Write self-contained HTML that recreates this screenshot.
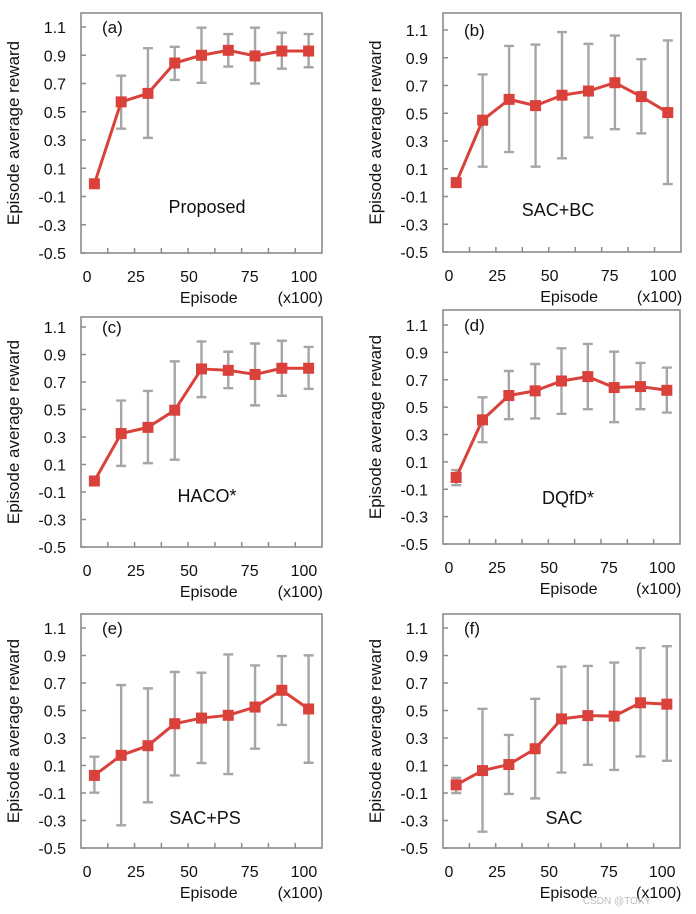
<!DOCTYPE html>
<html><head><meta charset="utf-8">
<style>
html,body{margin:0;padding:0;background:#fff;}
svg{display:block;font-family:"Liberation Sans",Arial,sans-serif;}
</style></head>
<body>
<svg id="fig" width="696" height="914" viewBox="0 0 696 914" xmlns="http://www.w3.org/2000/svg"></svg>
<script>
const xTickLabels = ["0","25","50","75","100"];
const yTickValues = [1.1,0.9,0.7,0.5,0.3,0.1,-0.1,-0.3,-0.5];
const panelIds = ["a","b","c","d","e","f"];
const panelNames = ["Proposed","SAC+BC","HACO*","DQfD*","SAC+PS","SAC"];
const meanA = [-0.01,0.57,0.63,0.845,0.90,0.935,0.895,0.93,0.93];
const highA = [-0.01,0.755,0.95,0.96,1.095,1.05,1.095,1.06,1.05];
const lowA  = [-0.01,0.38,0.315,0.725,0.705,0.82,0.70,0.805,0.815];
const meanB = [0.0,0.45,0.60,0.555,0.63,0.66,0.72,0.62,0.505];
const highB = [0.0,0.78,0.985,0.995,1.085,1.0,1.06,0.89,1.025];
const lowB  = [0.0,0.115,0.22,0.115,0.175,0.325,0.385,0.355,-0.01];
const meanC = [-0.02,0.325,0.37,0.495,0.795,0.785,0.755,0.80,0.80];
const highC = [-0.02,0.565,0.635,0.85,0.995,0.92,0.98,1.0,0.955];
const lowC  = [-0.02,0.09,0.11,0.135,0.59,0.655,0.53,0.60,0.65];
const meanD = [-0.014,0.407,0.585,0.619,0.691,0.723,0.643,0.65,0.623];
const highD = [0.04,0.572,0.764,0.815,0.93,0.962,0.905,0.823,0.789];
const lowD  = [-0.07,0.244,0.412,0.417,0.451,0.485,0.39,0.485,0.46];
const meanE = [0.028,0.174,0.244,0.404,0.445,0.465,0.525,0.647,0.511];
const highE = [0.164,0.685,0.661,0.78,0.775,0.908,0.828,0.896,0.901];
const lowE  = [-0.098,-0.335,-0.168,0.028,0.118,0.038,0.222,0.395,0.12];
const meanF = [-0.041,0.063,0.107,0.222,0.439,0.463,0.459,0.556,0.546];
const highF = [0.01,0.512,0.322,0.585,0.819,0.824,0.849,0.954,0.968];
const lowF  = [-0.1,-0.381,-0.107,-0.139,0.049,0.105,0.068,0.166,0.134];

const series = [[meanA,highA,lowA],[meanB,highB,lowB],[meanC,highC,lowC],[meanD,highD,lowD],[meanE,highE,lowE],[meanF,highF,lowF]];
// layout geometry (not data)
const frames = [
 {l:81,r:322,t:13,b:253,y11:27, nx:207,ny:207},
 {l:443,r:681,t:13,b:252,y11:30, nx:558,ny:210},
 {l:81,r:322,t:317,b:547,y11:327, nx:207,ny:496},
 {l:443,r:680,t:310,b:544,y11:325, nx:568,ny:498},
 {l:81,r:322,t:614,b:848,y11:628, nx:205,ny:818},
 {l:443,r:680,t:614,b:848,y11:628, nx:564,ny:818}
];
const xLabelFrac = [0.025,0.228,0.448,0.70,0.925];
const NS="http://www.w3.org/2000/svg";
const svg=document.getElementById('fig');
function mk(tag,attrs,parent,text){const e=document.createElementNS(NS,tag);for(const k in attrs)e.setAttribute(k,attrs[k]);if(text!==undefined)e.textContent=text;(parent||svg).appendChild(e);return e;}

frames.forEach((f,pi)=>{
  const g=mk('g',{});
  
  
  const y=v=>f.b-(v+0.5)/1.6*(f.b-f.y11);
  const n=series[pi][0].length;
  const cw=(f.r-f.l)/n;
  const x=i=>f.l+cw*(i+0.5);
  const fr=mk('rect',{x:f.l,y:f.t,width:f.r-f.l,height:f.b-f.t,fill:'none',stroke:'#8c8c8c','stroke-width':1.6},g);
  
  
  for(let i=1;i<n;i++){
    const t=mk('line',{x1:f.l+cw*i,x2:f.l+cw*i,y1:f.b,y2:f.b-5,stroke:'#8c8c8c','stroke-width':1.5},g);
    
    
  }
  yTickValues.forEach(v=>{
    const tk=mk('line',{x1:f.l,x2:f.l+5,y1:y(v),y2:y(v),stroke:'#8c8c8c','stroke-width':1.5},g);
    
    
    const t=mk('text',{x:f.l-15,y:y(v)+6,'text-anchor':'end','font-size':16,fill:'#111'},g,v.toFixed(1));
    
    
  });
  xTickLabels.forEach((s,i)=>{
    const t=mk('text',{x:f.l+(f.r-f.l)*xLabelFrac[i],y:f.b+29,'text-anchor':'middle','font-size':16,fill:'#111'},g,s);
    
    
  });
  const xt=mk('text',{x:f.l+(f.r-f.l)*0.53,y:f.b+50,'text-anchor':'middle','font-size':16,fill:'#111'},g,'Episode');
  
  
  const xu=mk('text',{x:f.l+(f.r-f.l)*0.91,y:f.b+50,'text-anchor':'middle','font-size':16,fill:'#111'},g,'(x100)');
  
  
  const cy=(f.t+f.b)/2, cx=f.l-62;
  const yt=mk('text',{x:cx,y:cy,'text-anchor':'middle','font-size':17,fill:'#111',transform:'rotate(-90 '+cx+' '+cy+')'},g,'Episode average reward');
  
  
  const pl=mk('text',{x:f.l+21,y:f.y11+6,'font-size':17,fill:'#111'},g,'('+panelIds[pi]+')');
  
  
  const nm=mk('text',{x:f.nx,y:f.ny+6,'text-anchor':'middle','font-size':18,fill:'#111'},g,panelNames[pi]);
  
  
  const [mean,hi,lo]=series[pi];
  for(let i=0;i<n;i++){
    if(hi[i]-lo[i]<0.005) continue;
    const eb=mk('path',{d:`M${x(i)},${y(lo[i])}V${y(hi[i])}M${x(i)-5},${y(lo[i])}h10M${x(i)-5},${y(hi[i])}h10`,stroke:'#a6a6a6','stroke-width':2.4,fill:'none'},g);
    
    
  }
  const ln=mk('polyline',{points:mean.map((v,i)=>x(i)+','+y(v)).join(' '),fill:'none',stroke:'#d9413a','stroke-width':3,'stroke-linejoin':'round'},g);
  
  
  mean.forEach((v,i)=>{
    const m=mk('rect',{x:x(i)-5.5,y:y(v)-5.5,width:11,height:11,fill:'#d9413a'},g);
    
    
  });
});
const wm=mk('text',{x:617,y:904,'text-anchor':'middle','font-size':10,fill:'#bbb'},svg,'CSDN @TOKY');


</script>
</body></html>
